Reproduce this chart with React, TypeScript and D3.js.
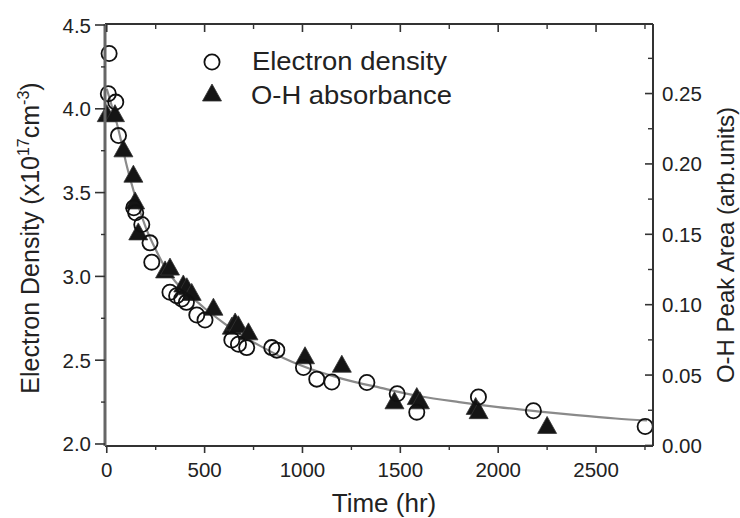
import React from "react";
import * as d3 from "d3";

// Electron density (left axis, x10^17 cm^-3)
const electronTime = [8, 12, 46, 60, 138, 148, 179, 221, 230, 323, 357, 383, 407, 460, 502, 639, 673, 715, 843, 869, 1005, 1073, 1150, 1329, 1484, 1584, 1899, 2180, 2751];
const electronDensity = [4.09, 4.33, 4.04, 3.84, 3.41, 3.38, 3.31, 3.2, 3.085, 2.905, 2.885, 2.865, 2.845, 2.77, 2.74, 2.62, 2.595, 2.575, 2.575, 2.56, 2.456, 2.387, 2.37, 2.367, 2.3, 2.19, 2.28, 2.198, 2.104];

// O-H absorbance (right axis, arb. units)
const ohTime = [0, 42, 85, 136, 145, 161, 298, 323, 391, 409, 434, 545, 639, 656, 672, 724, 1013, 1201, 1470, 1584, 1600, 1885, 1900, 2250];
const ohArea = [0.235, 0.235, 0.21, 0.192, 0.173, 0.151, 0.124, 0.126, 0.114, 0.112, 0.108, 0.0975, 0.084, 0.087, 0.085, 0.08, 0.063, 0.057, 0.031, 0.034, 0.031, 0.027, 0.024, 0.0135];

// Fitted decay curve (left axis)
const fitTime = [0, 25, 50, 75, 100, 125, 150, 200, 250, 300, 350, 400, 450, 500, 600, 700, 800, 900, 1000, 1200, 1400, 1600, 1800, 2000, 2200, 2400, 2600, 2760];
const fitDensity = [4.12, 4.02, 3.92, 3.8, 3.67, 3.56, 3.46, 3.29, 3.16, 3.05, 2.97, 2.91, 2.86, 2.81, 2.72, 2.64, 2.575, 2.515, 2.465, 2.39, 2.335, 2.285, 2.25, 2.22, 2.195, 2.172, 2.152, 2.14];

const xMajor = [0, 500, 1000, 1500, 2000, 2500];
const xMinor = [250, 750, 1250, 1750, 2250, 2750];
const leftMajor = [2.0, 2.5, 3.0, 3.5, 4.0, 4.5];
const leftMinor = [2.25, 2.75, 3.25, 3.75, 4.25];
const rightMajor = [0, 0.05, 0.1, 0.15, 0.2, 0.25];
const rightMinor = [0.025, 0.075, 0.125, 0.175, 0.225, 0.275];

const FONT = "'Liberation Sans', Arial, Helvetica, sans-serif";

export default function App() {
  const L = 105, R = 653, T = 24, B = 446;
  const x = d3.scaleLinear().domain([-9, 2791]).range([L, R]);
  const yL = d3.scaleLinear().domain([1.988, 4.5]).range([B, 25]);
  const yR = d3.scaleLinear().domain([-0.0004, 0.2987]).range([B, 25]);

  const line = d3
    .line<number>()
    .x((_, i) => x(fitTime[i]))
    .y((d) => yL(d))
    .curve(d3.curveMonotoneX);

  const tri = (cx: number, cy: number) =>
    `M${cx},${cy - 10}L${cx + 9.5},${cy + 7}L${cx - 9.5},${cy + 7}Z`;

  return (
    <svg width={740} height={518} style={{ position: "absolute", left: 0, top: 0, background: "#fff" }} fontFamily={FONT}>
      <rect x={0} y={0} width={740} height={518} fill="#fff" />
      {/* fit curve */}
      <path d={line(fitDensity) || ""} fill="none" stroke="#8a8a8a" strokeWidth={2.2} />

      {/* triangles */}
      {ohTime.map((t, i) => (
        <path key={"t" + i} d={tri(x(t), yR(ohArea[i]))} fill="#151515" stroke="#333" strokeWidth={0.8} />
      ))}
      {/* circles */}
      {electronTime.map((t, i) => (
        <circle key={"c" + i} cx={x(t)} cy={yL(electronDensity[i])} r={7.6} fill="none" stroke="#111" strokeWidth={1.8} />
      ))}

      {/* frame */}
      <line x1={L} x2={R} y1={T} y2={T} stroke="#333" strokeWidth={2} />
      <line x1={L} x2={R} y1={B} y2={B} stroke="#333" strokeWidth={2} />
      <line x1={R} x2={R} y1={T} y2={B} stroke="#333" strokeWidth={2} />
      <line x1={L} x2={L} y1={T} y2={B} stroke="#666" strokeWidth={3} />

      {/* bottom ticks (outward) & top ticks (inward) */}
      {xMajor.map((v) => (
        <g key={"xm" + v}>
          <line x1={x(v)} x2={x(v)} y1={B} y2={B + 7} stroke="#333" strokeWidth={1.6} />
          <line x1={x(v)} x2={x(v)} y1={T} y2={T + 8} stroke="#333" strokeWidth={1.6} />
          <text x={x(v)} y={477} textAnchor="middle" fontSize={20.5} fill="#222">{v}</text>
        </g>
      ))}
      {xMinor.map((v) => (
        <g key={"xn" + v}>
          <line x1={x(v)} x2={x(v)} y1={B} y2={B + 4} stroke="#333" strokeWidth={1.4} />
          <line x1={x(v)} x2={x(v)} y1={T} y2={T + 5} stroke="#333" strokeWidth={1.4} />
        </g>
      ))}

      {/* left axis */}
      {leftMajor.map((v) => (
        <g key={"lm" + v}>
          <line x1={L - 10} x2={L} y1={yL(v)} y2={yL(v)} stroke="#333" strokeWidth={1.6} />
          <text x={91} y={yL(v) + 7.5} textAnchor="end" fontSize={20.5} fill="#222">{v.toFixed(1)}</text>
        </g>
      ))}
      {leftMinor.map((v) => (
        <line key={"ln" + v} x1={L - 4} x2={L} y1={yL(v)} y2={yL(v)} stroke="#333" strokeWidth={1.4} />
      ))}

      {/* right axis */}
      {rightMajor.map((v) => (
        <g key={"rm" + v}>
          <line x1={R - 8} x2={R} y1={yR(v)} y2={yR(v)} stroke="#333" strokeWidth={1.6} />
          <text x={662} y={yR(v) + 7.5} textAnchor="start" fontSize={20.5} fill="#222">{v.toFixed(2)}</text>
        </g>
      ))}
      {rightMinor.map((v) => (
        <line key={"rn" + v} x1={R - 5} x2={R} y1={yR(v)} y2={yR(v)} stroke="#333" strokeWidth={1.4} />
      ))}

      {/* axis titles */}
      <text x={384} y={512} textAnchor="middle" fontSize={26} fill="#222">Time (hr)</text>
      <text transform="translate(39,238) rotate(-90)" textAnchor="middle" fontSize={25} fill="#222">
        Electron Density (x10<tspan dy={-10} fontSize={16}>17</tspan>
        <tspan dy={10}>cm</tspan>
        <tspan dy={-10} fontSize={16}>-3</tspan>
        <tspan dy={10}>)</tspan>
      </text>
      <text transform="translate(734,245) rotate(-90)" textAnchor="middle" fontSize={24} fill="#222">
        O-H Peak Area (arb.units)
      </text>

      {/* legend */}
      <circle cx={212} cy={62} r={7.6} fill="none" stroke="#111" strokeWidth={1.8} />
      <path d={tri(212, 94)} fill="#151515" stroke="#333" strokeWidth={0.8} />
      <text x={252} y={70} fontSize={25} fill="#222" textLength={195} lengthAdjust="spacingAndGlyphs">Electron density</text>
      <text x={251} y={104} fontSize={25} fill="#222" textLength={201} lengthAdjust="spacingAndGlyphs">O-H absorbance</text>
    </svg>
  );
}
